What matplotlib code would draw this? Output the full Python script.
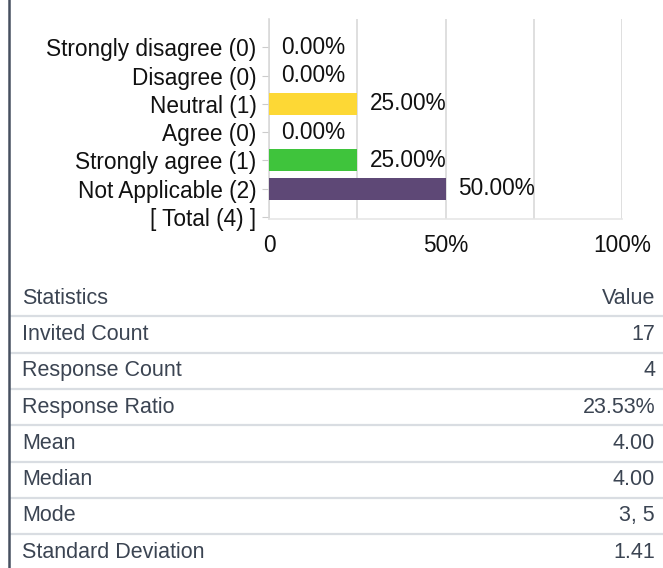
import matplotlib
matplotlib.use('Agg')
from matplotlib import pyplot as plt
from matplotlib.lines import Line2D

plt.rcParams['font.family'] = ['Liberation Sans', 'DejaVu Sans']

# chart data
categories = ['Strongly disagree (0)', 'Disagree (0)', 'Neutral (1)', 'Agree (0)',
              'Strongly agree (1)', 'Not Applicable (2)', '[ Total (4) ]']
percents = [0.0, 0.0, 25.0, 0.0, 25.0, 50.0]
bar_colors = ['#e0e0e0', '#e0e0e0', '#fdd835', '#e0e0e0', '#3fc43c', '#5e4876']
x_ticks = [0, 50, 100]
x_ticklabels = ['0', '50%', '100%']

# statistics table
stat_names = ['Invited Count', 'Response Count', 'Response Ratio', 'Mean',
              'Median', 'Mode', 'Standard Deviation']
stat_values = ['17', '4', '23.53%', '4.00', '4.00', '3, 5', '1.41']

W, H = 663, 568
FS = 16.3      # chart text
FT = 15.5      # table text
fig = plt.figure(figsize=(W / 100, H / 100), dpi=100)

def px_axes(x0, y0, x1, y1):
    # axes from pixel box (top-left origin)
    return fig.add_axes([x0 / W, 1 - y1 / H, (x1 - x0) / W, (y1 - y0) / H])

# bar chart
ax = px_axes(269, 19, 622, 219)
ypos = list(range(len(percents)))
ax.barh(ypos, percents, height=0.78, color=bar_colors, zorder=3)
for y, p in zip(ypos, percents):
    ax.annotate('%.2f%%' % p, (p, y), xytext=(9, 0), textcoords='offset points',
                va='center', ha='left', fontsize=FS, color='#111111')
ax.set_xlim(0, 100)
ax.set_ylim(len(categories) - 1 + 0.07, -1.0)
ax.set_yticks(range(len(categories)))
ax.set_yticklabels(categories, fontsize=FS, color='#111111')
ax.set_xticks(x_ticks)
ax.set_xticklabels(x_ticklabels, fontsize=FS, color='#111111')
ax.set_xticks([25, 75], minor=True)
ax.tick_params(axis='y', length=5, color='#cccccc', pad=4)
ax.tick_params(axis='x', which='both', length=0, pad=11)
ax.grid(axis='x', which='both', color='#d9d9d9', linewidth=1.2, zorder=0)
for s in ['top', 'right']:
    ax.spines[s].set_visible(False)
ax.spines['left'].set_color('#d9d9d9')
ax.spines['bottom'].set_color('#e6e6e6')
ax.spines['left'].set_linewidth(1.2)
ax.spines['bottom'].set_linewidth(1.2)

# statistics table
tx = px_axes(10, 280, 663, 569)
nrows = len(stat_names) + 1
tx.set_xlim(0, 1)
tx.set_ylim(-0.5 + 289 / 36.3, -0.5)
tx.axis('off')
tcol = '#3b4452'
tx.text(12 / 653, 0, 'Statistics', va='center', ha='left', fontsize=FT, color=tcol)
tx.text(645 / 653, 0, 'Value', va='center', ha='right', fontsize=FT, color=tcol)
for i, (n, v) in enumerate(zip(stat_names, stat_values), start=1):
    tx.text(12 / 653, i, n, va='center', ha='left', fontsize=FT, color=tcol)
    tx.text(645 / 653, i, v, va='center', ha='right', fontsize=FT, color=tcol)
for i in range(nrows - 1):
    tx.axhline(i + 0.5, color='#d9dde2', linewidth=1.6)

# left border line
fig.add_artist(Line2D([9 / W, 9 / W], [0, 1], color='#465060', linewidth=1.8))

fig.savefig('out.png', dpi=100)
